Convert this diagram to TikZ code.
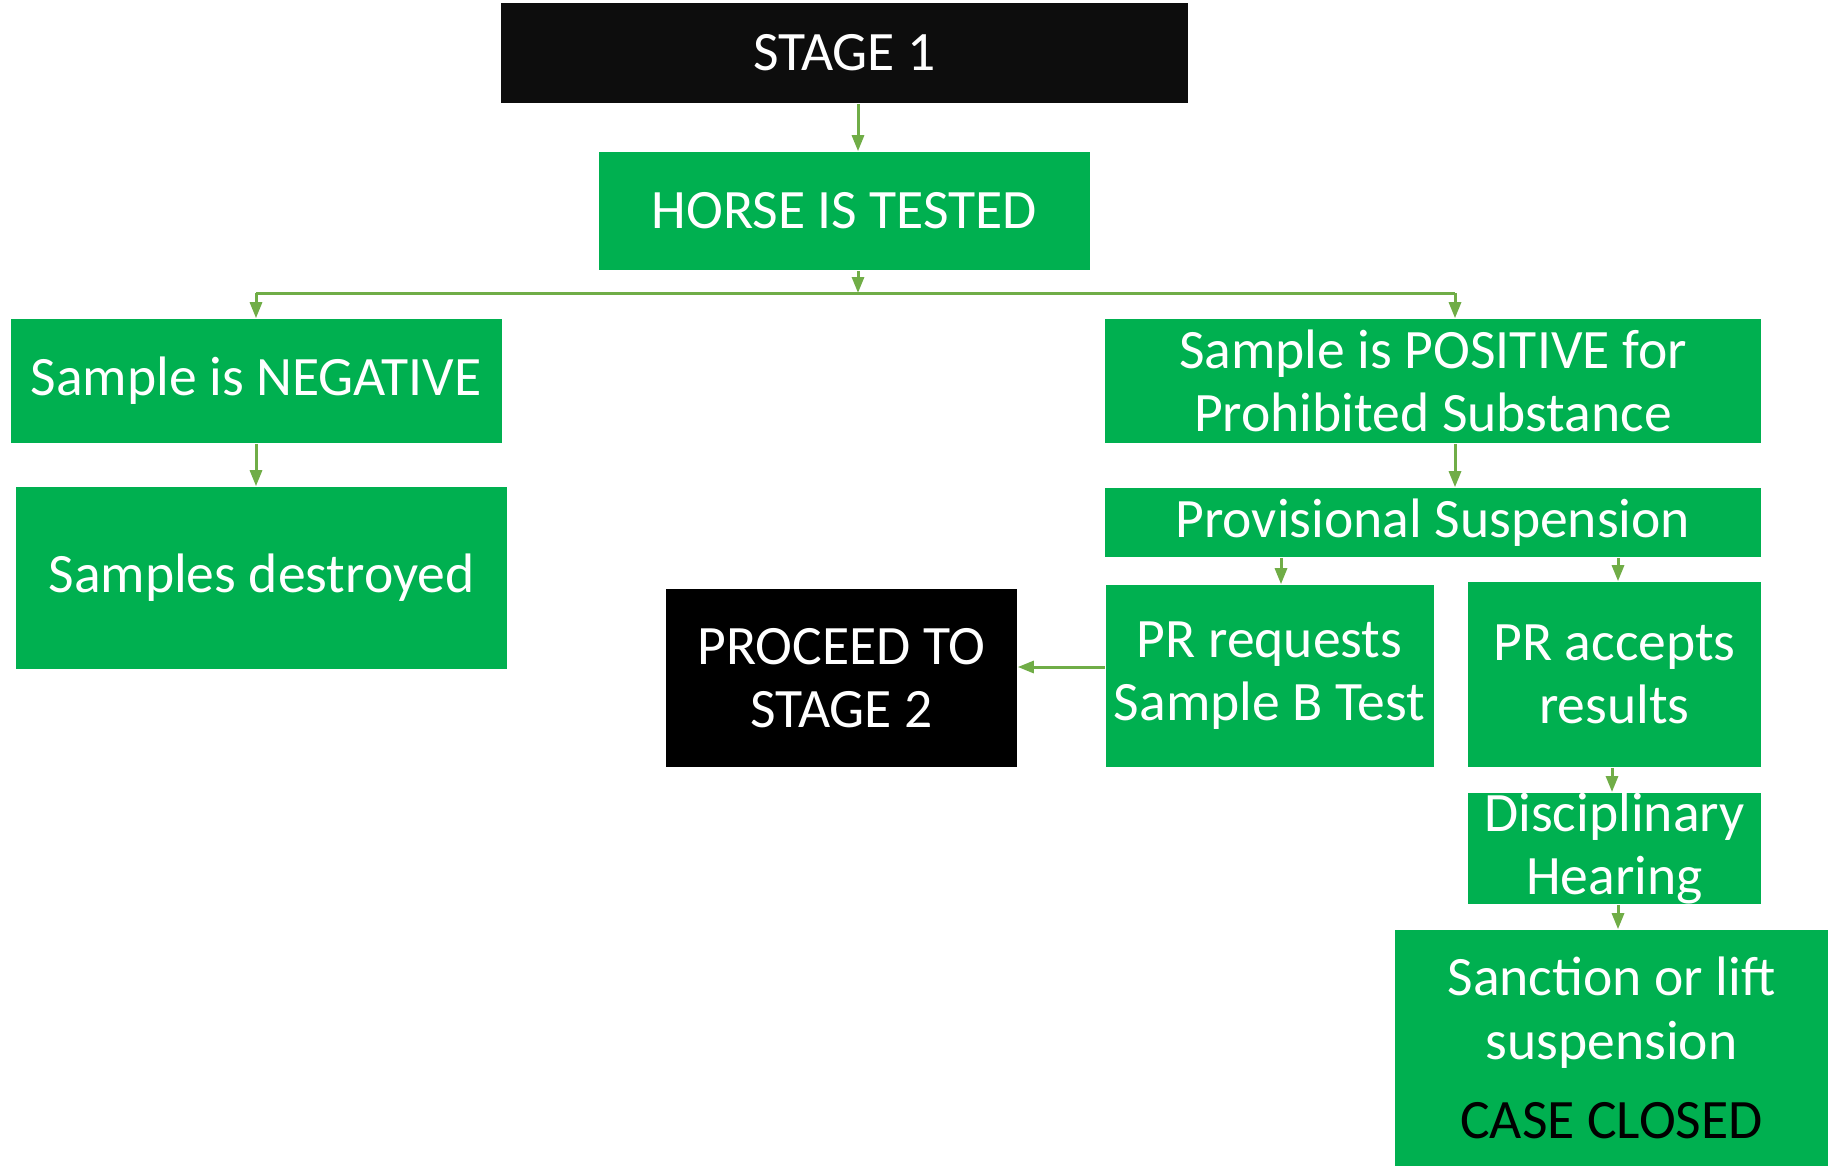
\documentclass[tikz,border=0pt]{standalone}
\usepackage{fontspec}
\setmainfont{Carlito}
\usetikzlibrary{arrows.meta}
\definecolor{boxgreen}{HTML}{00B050}
\definecolor{linegreen}{HTML}{70AD47}
\definecolor{boxblack}{HTML}{0D0D0D}
\begin{document}
\begin{tikzpicture}[x=0.25pt, y=-0.25pt]

\tikzstyle{every node} = [rectangle, inner sep=0pt, align=center, text=white,
  font=\fontsize{13.9}{15.8}\selectfont]
\tikzstyle{gbox} = [fill=boxgreen]
\tikzstyle{kbox} = [fill=boxblack]
\tikzstyle{arr} = [draw=linegreen, line width=0.75pt, -{Triangle[length=4pt,width=3pt]}]

\useasboundingbox (0,0) rectangle (1832,1168);

\node[kbox, minimum width=171.75pt, minimum height=25pt] (stage) at (844.5,53) {STAGE 1};
\node[gbox, minimum width=122.75pt, minimum height=29.5pt] (horse) at (844.5,211) {HORSE IS TESTED};

\node[gbox, minimum width=122.75pt, minimum height=31pt] (neg) at (256,381) {Sample is NEGATIVE};
\node[gbox, minimum width=122.75pt, minimum height=45.5pt] (destr) at (261.5,578) {Samples destroyed};

\node[gbox, minimum width=164pt, minimum height=31pt] (pos) at (1433,381) {Sample is POSITIVE for\\Prohibited Substance};
\node[gbox, minimum width=164pt, minimum height=17.25pt] (prov) at (1433,522.5) {Provisional Suspension};
\node[gbox, minimum width=82pt, minimum height=45.5pt] (req) at (1269.5,676) {PR requests\\Sample B Test};
\node[gbox, minimum width=73.25pt, minimum height=46.25pt] (acc) at (1614.5,674.5) {PR accepts\\results};
\node[kbox, fill=black, minimum width=87.75pt, minimum height=44.5pt] (stage2) at (841.5,678) {PROCEED TO\\STAGE 2};
\node[gbox, minimum width=73.25pt, minimum height=27.75pt] (hear) at (1614.5,848.5) {Disciplinary\\Hearing};
\node[gbox, minimum width=108.25pt, minimum height=59pt] (sanc) at (1611.5,1048) {Sanction or lift\\suspension\\[4pt]\textcolor{black}{CASE CLOSED}};

% fork below the test
\coordinate (fk) at (858,293);
\coordinate (fl) at (256,293);
\coordinate (fr) at (1455,293);
\coordinate (cl) at (1281,0);
\coordinate (cr) at (1618,0);
\coordinate (cd) at (1612,0);

\draw[arr] (stage.south -| fk) -- (horse.north -| fk);
\draw[arr] (horse.south -| fk) -- (fk);
\draw[draw=linegreen, line width=0.75pt] (fl) -- (fr);
\draw[arr] (fl) -- (neg.north -| fl);
\draw[arr] (fr) -- (pos.north -| fr);
\draw[arr] (neg.south -| fl) -- (destr.north -| fl);
\draw[arr] (pos.south -| fr) -- (prov.north -| fr);
\draw[arr] (prov.south -| cl) -- (req.north -| cl);
\draw[arr] (prov.south -| cr) -- (acc.north -| cr);
\draw[arr] (req.west |- 0,667) -- (stage2.east |- 0,667);
\draw[arr] (acc.south -| cd) -- (hear.north -| cd);
\draw[arr] (hear.south -| cr) -- (sanc.north -| cr);
\end{tikzpicture}
\end{document}
